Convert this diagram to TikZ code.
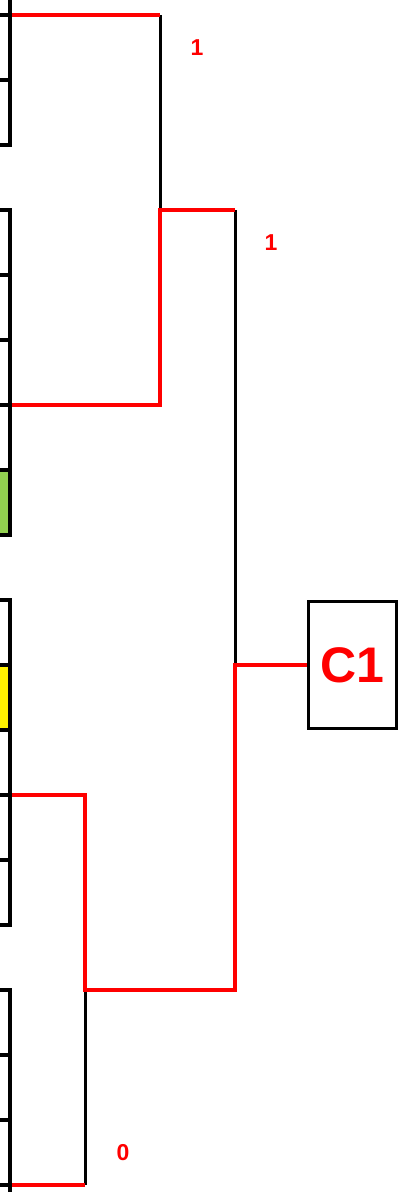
\documentclass[tikz,border=0pt]{standalone}
\usepackage{fontspec}
\setmainfont{Liberation Sans}
\usepackage{tikz}

\definecolor{leafgreen}{RGB}{146,208,80}

\begin{document}
\begin{tikzpicture}[x=1pt, y=-1pt, line join=miter,
	link/.style={red, line width=4.6pt},
	stem/.style={black, line width=3pt},
	cell/.style={black, line width=3.4pt},
	rim/.style={black, line width=4.8pt},
	score/.style={red, font=\bfseries\fontsize{23}{23}\selectfont}]

	\useasboundingbox (0,0) rectangle (398,1192);

	\fill[leafgreen] (0,470) rectangle (10,535);
	\fill[yellow] (0,665) rectangle (10,730);

	\foreach \y in {15,80,275,340,405,470,665,730,795,860,1055,1120,1185}
		\draw[cell] (0,\y) -- (10,\y);
	\foreach \a/\b in {-50/145,210/535,600/925,990/1250}
		\draw[rim] (0,\a) -- (10,\a) -- (10,\b) -- (0,\b);

	\coordinate (la) at (12,15);
	\coordinate (lb) at (12,405);
	\coordinate (lc) at (12,795);
	\coordinate (ld) at (12,1185);
	\coordinate (j1) at (160,210);
	\coordinate (j2) at (85,990);
	\coordinate (j3) at (235,665);

	\node[draw=black, text=red, line width=3pt, minimum width=88pt, minimum height=127pt, inner sep=0pt, font=\bfseries\fontsize{50}{50}\selectfont] (c1) at (352,665) {C1};

	\draw[stem] (la -| j1) -- (j1);
	\draw[stem] (j1 -| j3) -- (j3);
	\draw[stem] (j2) -- (j2 |- ld);

	\draw[link] (la) -- (la -| j1);
	\draw[link] (lb) -| (j1) -- (j1 -| j3);
	\draw[link] (lc) -| (j2) -- (j2 -| j3) -- (j3) -- (c1.west);
	\draw[link] (ld) -- (ld -| j2);

	\node[score] (s1) at (197,48) {1};
	\node[score] (s2) at (271,243) {1};
	\node[score] (s0) at (123,1153) {0};

\end{tikzpicture}
\end{document}
